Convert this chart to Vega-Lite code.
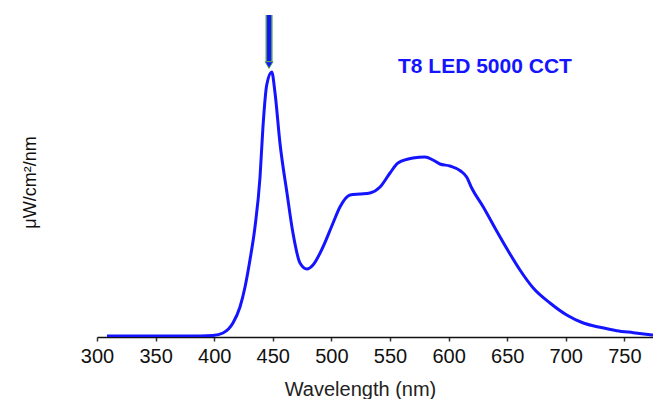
{
  "$schema": "https://vega.github.io/schema/vega-lite/v6.json",
  "autosize": "none",
  "width": 556,
  "height": 337,
  "padding": {"left": 97, "top": 0, "right": 0, "bottom": 62},
  "background": "white",
  "config": {"view": {"stroke": null}, "font": "Liberation Sans"},
  "datasets": {
    "spectrum": [
      {"nm": 308.5, "v": 1}, {"nm": 345, "v": 1}, {"nm": 388, "v": 1}, {"nm": 399, "v": 1.5},
      {"nm": 407.5, "v": 4}, {"nm": 416, "v": 14}, {"nm": 422, "v": 30}, {"nm": 426.3, "v": 50},
      {"nm": 430.5, "v": 77}, {"nm": 434.8, "v": 110}, {"nm": 439.1, "v": 160}, {"nm": 441.6, "v": 210},
      {"nm": 444.8, "v": 252}, {"nm": 449.1, "v": 265}, {"nm": 451.9, "v": 244}, {"nm": 456.1, "v": 194},
      {"nm": 462.1, "v": 144}, {"nm": 467.2, "v": 104}, {"nm": 473.2, "v": 74}, {"nm": 479.2, "v": 68},
      {"nm": 484.3, "v": 72}, {"nm": 492.8, "v": 90}, {"nm": 501.4, "v": 114}, {"nm": 507.3, "v": 130},
      {"nm": 515.9, "v": 142}, {"nm": 524.4, "v": 143}, {"nm": 532.9, "v": 144}, {"nm": 541.5, "v": 150},
      {"nm": 550, "v": 164}, {"nm": 556.8, "v": 174}, {"nm": 569.6, "v": 179}, {"nm": 579.8, "v": 180},
      {"nm": 586.7, "v": 177}, {"nm": 592.6, "v": 173}, {"nm": 601.2, "v": 171}, {"nm": 610.3, "v": 166},
      {"nm": 615.4, "v": 160}, {"nm": 619.7, "v": 149}, {"nm": 629.6, "v": 130}, {"nm": 641, "v": 106},
      {"nm": 652.4, "v": 83}, {"nm": 660.9, "v": 67}, {"nm": 672.2, "v": 49}, {"nm": 686.5, "v": 34},
      {"nm": 700.8, "v": 22}, {"nm": 714.9, "v": 14}, {"nm": 729.2, "v": 9.7}, {"nm": 743.4, "v": 6.3},
      {"nm": 757.6, "v": 4.3}, {"nm": 774.4, "v": 2}
    ],
    "arrow": [{"nm": 446.8, "top": 322, "bottom": 276, "tip": 272}],
    "label": [{"nm": 631, "v": 270, "text": "T8 LED 5000 CCT"}]
  },
  "layer": [
    {
      "data": {"name": "spectrum"},
      "mark": {"type": "line", "color": "#1414ff", "strokeWidth": 3, "interpolate": "monotone", "clip": true},
      "encoding": {
        "x": {
          "field": "nm", "type": "quantitative",
          "scale": {"domain": [300, 774.4], "nice": false, "zero": false},
          "axis": {
            "values": [300, 350, 400, 450, 500, 550, 600, 650, 700, 750],
            "title": "Wavelength (nm)", "titleFontSize": 20, "titleFontWeight": "normal", "titleColor": "#222",
            "titleX": 263, "titlePadding": 13,
            "labelFontSize": 20, "labelColor": "#111", "labelPadding": 5, "labelFlush": false,
            "domainColor": "#111", "domainWidth": 1.5, "tickColor": "#333", "tickSize": 4, "tickWidth": 1.5,
            "grid": false
          }
        },
        "y": {
          "field": "v", "type": "quantitative",
          "scale": {"domain": [0, 337], "nice": false},
          "axis": {
            "title": "μW/cm²/nm", "titleFontSize": 18, "titleFontWeight": "normal", "titleColor": "#111",
            "titleX": -67, "titleY": 182, "titleAngle": -90, "titleAlign": "center", "titleBaseline": "middle",
            "labels": false, "ticks": false, "domain": false, "grid": false
          }
        }
      }
    },
    {
      "data": {"name": "arrow"},
      "mark": {"type": "rule", "color": "#4a9a4a", "strokeWidth": 7},
      "encoding": {
        "x": {"field": "nm", "type": "quantitative"},
        "y": {"field": "top", "type": "quantitative"},
        "y2": {"field": "bottom"}
      }
    },
    {
      "data": {"name": "arrow"},
      "mark": {"type": "rule", "color": "#1414ff", "strokeWidth": 4},
      "encoding": {
        "x": {"field": "nm", "type": "quantitative"},
        "y": {"field": "top", "type": "quantitative"},
        "y2": {"field": "bottom"}
      }
    },
    {
      "data": {"name": "arrow"},
      "mark": {"type": "point", "shape": "triangle-down", "filled": true, "color": "#1414ff", "stroke": "#4a9a4a", "strokeWidth": 1, "size": 60, "opacity": 1},
      "encoding": {
        "x": {"field": "nm", "type": "quantitative"},
        "y": {"field": "tip", "type": "quantitative"}
      }
    },
    {
      "data": {"name": "label"},
      "mark": {"type": "text", "color": "#1414ff", "fontSize": 21, "fontWeight": "bold", "align": "center", "baseline": "middle", "font": "Liberation Sans"},
      "encoding": {
        "x": {"field": "nm", "type": "quantitative"},
        "y": {"field": "v", "type": "quantitative"},
        "text": {"field": "text"}
      }
    }
  ]
}
